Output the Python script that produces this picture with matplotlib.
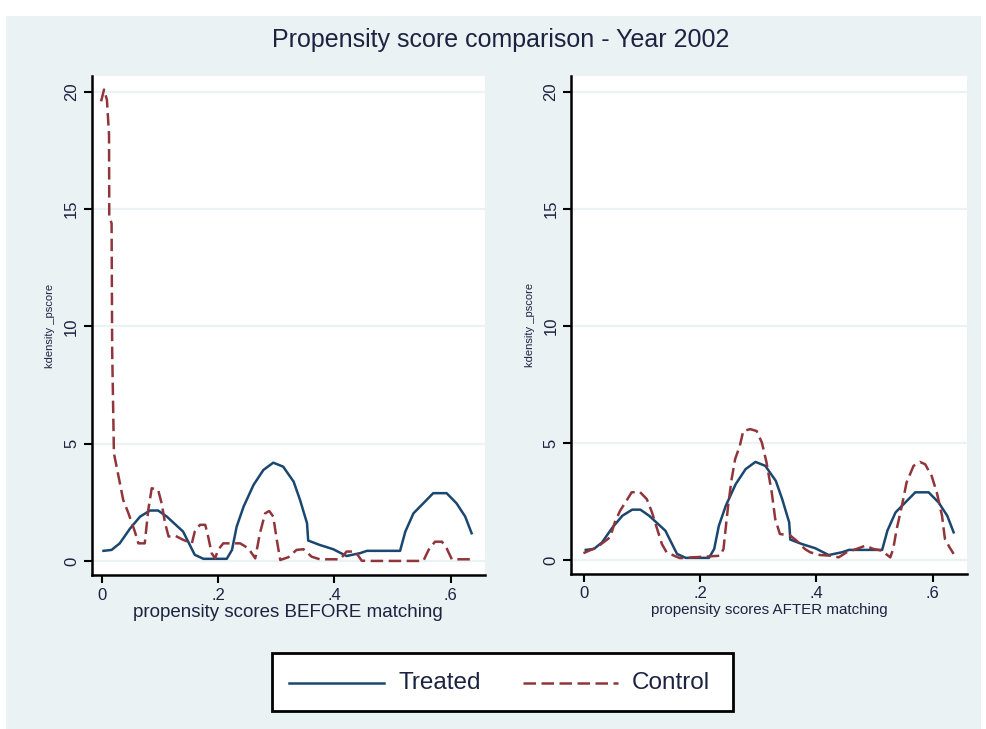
import matplotlib
matplotlib.use("Agg")
import matplotlib.pyplot as plt
from matplotlib.patches import Rectangle
from matplotlib.lines import Line2D

plt.rcParams['font.family'] = ['Liberation Sans', 'DejaVu Sans']

# Kernel density of the propensity score, treated group (same in both panels)
treated_x = [0.003, 0.017, 0.031, 0.049, 0.066, 0.083, 0.097, 0.112, 0.140, 0.160,
             0.175, 0.215, 0.224, 0.232, 0.244, 0.261, 0.278, 0.295, 0.312, 0.330,
             0.341, 0.353, 0.355, 0.375, 0.398, 0.421, 0.444, 0.456, 0.513, 0.522,
             0.536, 0.553, 0.570, 0.593, 0.610, 0.625, 0.636]
treated_y = [0.43, 0.47, 0.75, 1.39, 1.89, 2.15, 2.15, 1.89, 1.25, 0.26,
             0.09, 0.09, 0.47, 1.46, 2.32, 3.24, 3.88, 4.19, 4.02, 3.38,
             2.60, 1.61, 0.87, 0.68, 0.50, 0.21, 0.33, 0.43, 0.43, 1.25,
             2.03, 2.46, 2.89, 2.89, 2.46, 1.89, 1.18]

# Control group before matching
control_before_x = [-0.001, 0.004, 0.009, 0.0126, 0.013, 0.017, 0.018, 0.021, 0.029, 0.037,
                    0.046, 0.057, 0.063, 0.074, 0.080, 0.086, 0.097, 0.103, 0.109, 0.115,
                    0.126, 0.140, 0.155, 0.160, 0.169, 0.178, 0.183, 0.189, 0.195, 0.200,
                    0.209, 0.238, 0.252, 0.264, 0.272, 0.281, 0.288, 0.295, 0.301, 0.307,
                    0.321, 0.335, 0.347, 0.361, 0.375, 0.410, 0.421, 0.436, 0.447, 0.465,
                    0.553, 0.562, 0.573, 0.585, 0.593, 0.602, 0.636]
control_before_y = [19.6, 20.1, 19.66, 18.17, 14.68, 14.4, 9.0, 4.59, 3.6, 2.6,
                    2.03, 1.25, 0.75, 0.75, 2.17, 3.1, 3.03, 2.46, 1.61, 1.04,
                    1.08, 0.90, 0.75, 1.25, 1.54, 1.54, 1.04, 0.33, 0.11, 0.47,
                    0.75, 0.75, 0.54, 0.11, 1.18, 2.03, 2.13, 1.89, 0.90, 0.04,
                    0.16, 0.47, 0.50, 0.18, 0.07, 0.07, 0.40, 0.40, 0.01, 0.0,
                    0.0, 0.47, 0.82, 0.82, 0.54, 0.07, 0.07]

# Control group after matching
control_after_x = [-0.001, 0.022, 0.045, 0.053, 0.062, 0.073, 0.082, 0.096, 0.108, 0.117,
                   0.125, 0.134, 0.142, 0.157, 0.165, 0.234, 0.240, 0.243, 0.248, 0.254,
                   0.260, 0.268, 0.274, 0.286, 0.297, 0.306, 0.314, 0.323, 0.329, 0.337,
                   0.355, 0.366, 0.380, 0.389, 0.406, 0.426, 0.438, 0.452, 0.469, 0.484,
                   0.498, 0.512, 0.527, 0.532, 0.538, 0.547, 0.555, 0.567, 0.578, 0.587,
                   0.598, 0.607, 0.616, 0.621, 0.629, 0.636]
control_after_y = [0.29, 0.54, 0.97, 1.61, 2.10, 2.53, 2.89, 2.91, 2.60, 2.03,
                   1.39, 0.68, 0.33, 0.16, 0.08, 0.18, 0.47, 1.18, 2.32, 3.45,
                   4.31, 4.87, 5.51, 5.59, 5.51, 5.02, 4.17, 2.89, 1.75, 1.11,
                   1.04, 0.82, 0.47, 0.33, 0.21, 0.18, 0.11, 0.33, 0.47, 0.61,
                   0.47, 0.40, 0.11, 0.47, 1.32, 2.32, 3.31, 4.02, 4.19, 4.09,
                   3.60, 2.89, 1.89, 0.90, 0.54, 0.26]

y_ticks = [0, 5, 10, 15, 20]
y_tick_labels = ["0", "5", "10", "15", "20"]
x_ticks = [0, 0.2, 0.4, 0.6]
x_tick_labels = ["0", ".2", ".4", ".6"]

title = "Propensity score comparison - Year 2002"
y_title = "kdensity _pscore"
x_title_before = "propensity scores BEFORE matching"
x_title_after = "propensity scores AFTER matching"
legend_labels = ["Treated", "Control"]

NAVY = "#1a476f"
MAROON = "#90353b"
BG = "#eaf2f3"
TEXT = "#1c2340"
DASH = (0, (5.0, 2.2))

W, H = 987, 729
fig = plt.figure(figsize=(W / 100, H / 100), dpi=100)
fig.patch.set_facecolor("white")


def fx(px):
    return px / W


def fy(py):
    return 1 - py / H


# graph region background
fig.patches.append(Rectangle((fx(6), 0), fx(981 - 6), 1 - 16 / H,
                             transform=fig.transFigure, facecolor=BG,
                             edgecolor="none", zorder=-5))

fig.text(fx(501), fy(40), title, ha="center", va="center",
         fontsize=18, color=TEXT)


def panel(rect, cx, cy, xlabel, xlabel_size, xmin, ylabel_x):
    ax = fig.add_axes(rect)
    ax.set_facecolor("white")
    ax.set_xlim(xmin, 0.659)
    ax.set_ylim(-0.6, 20.68)
    for y in y_ticks:
        ax.axhline(y, color=BG, lw=1.6, zorder=1)
    ax.plot(treated_x, treated_y, color=NAVY, lw=1.8, zorder=3)
    ax.plot(cx, cy, color=MAROON, lw=1.8, ls=DASH, zorder=3)
    for s in ("top", "right"):
        ax.spines[s].set_visible(False)
    for s in ("left", "bottom"):
        ax.spines[s].set_linewidth(1.8)
        ax.spines[s].set_color("black")
    ax.set_yticks(y_ticks)
    ax.set_yticklabels(y_tick_labels, rotation=90, va="center",
                       fontsize=12, color=TEXT)
    ax.set_xticks(x_ticks)
    ax.set_xticklabels(x_tick_labels, fontsize=12, color=TEXT)
    ax.tick_params(axis="both", length=6, width=1.5, color="black", pad=3)
    ax.set_xlabel(xlabel, fontsize=xlabel_size, color=TEXT, labelpad=1)
    ax.set_ylabel(y_title, fontsize=8, color=TEXT)
    ax.yaxis.set_label_coords(ylabel_x, 0.5)
    return ax


ax1 = panel([fx(91.7), fy(575), fx(393.3), 499 / H],
            control_before_x, control_before_y, x_title_before, 13.5, -0.0172,
            (55 - 91.7) / 393.3)
ax2 = panel([fx(571), fy(574), fx(396), 498 / H],
            control_after_x, control_after_y, x_title_after, 10.9, -0.0224,
            (535 - 571) / 396)

# legend box drawn in figure pixels
fig.patches.append(Rectangle((fx(272), fy(711)), fx(733 - 272), (711 - 653) / H,
                             transform=fig.transFigure, facecolor="white",
                             edgecolor="black", lw=2, zorder=2))
ly = fy(683)
fig.add_artist(Line2D([fx(289), fx(384)], [ly, ly], color=NAVY, lw=1.8,
                      transform=fig.transFigure, zorder=3))
fig.add_artist(Line2D([fx(523), fx(618)], [ly, ly], color=MAROON, lw=1.8, ls=DASH,
                      transform=fig.transFigure, zorder=3))
fig.text(fx(399), ly, legend_labels[0], ha="left", va="center",
         fontsize=17.5, color=TEXT, zorder=4)
fig.text(fx(632), ly, legend_labels[1], ha="left", va="center",
         fontsize=17.5, color=TEXT, zorder=4)

fig.savefig("out.png", dpi=100)
